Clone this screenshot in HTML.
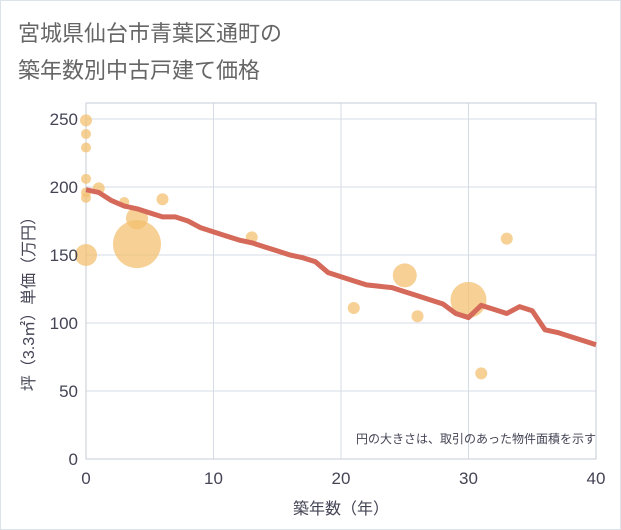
<!DOCTYPE html>
<html><head><meta charset="utf-8"><style>
body{margin:0;background:#fff}
svg{display:block;font-family:"Liberation Sans","Noto Sans CJK JP",sans-serif}
</style></head><body>
<svg width="621" height="530">
<rect x="0.5" y="0.5" width="620" height="529" fill="#fff" stroke="#dde3ea"/>
<text x="18" y="41" font-size="22" fill="#666">宮城県仙台市青葉区通町の</text>
<text x="18" y="78" font-size="22" fill="#666">築年数別中古戸建て価格</text>
<g id="grid"></g>
<rect x="86" y="103" width="510" height="356" fill="none" stroke="#c5ccd6"/>
<g id="bubbles"></g>
<g id="line"></g>
<g id="axes"></g>
<text x="596" y="443" font-size="12" fill="#445" text-anchor="end">円の大きさは、取引のあった物件面積を示す</text>
<text x="341" y="514" font-size="16" fill="#445" text-anchor="middle">築年数（年）</text>
<text transform="translate(34,300) rotate(-90)" font-size="16" fill="#445" text-anchor="middle">坪（3.3㎡）単価（万円）</text>
</svg>
<script>
const xTicks=[0,10,20,30,40];
const yTicks=[0,50,100,150,200,250];
const bubbleAge=[0,0,0,0,0,0,1,0,3,4,4,6,13,21,25,26,30,31,33];
const bubblePrice=[249,239,229,206,192,196,199,150,189,177,158,191,163,111,135,105,117,63,162];
const bubbleSize=[6,5,5,5,5,5,6,11,5,11,24,6,6,6,12,6,18,6,6];
const lineAge=[0,1,2,3,4,5,6,7,8,9,10,11,12,13,14,15,16,17,18,19,20,21,22,23,24,25,26,27,28,29,30,31,32,33,34,35,36,37,38,39,40];
const linePrice=[198,196,190,186,184,181,178,178,175,170,167,164,161,159,156,153,150,148,145,137,134,131,128,127,126,123,120,117,114,107,104,113,110,107,112,109,95,93,90,87,84];
const X=v=>86+v*12.75, Y=v=>459-v*1.36;
const NS="http://www.w3.org/2000/svg";
function mk(t,a,p){const e=document.createElementNS(NS,t);for(const k in a)e.setAttribute(k,a[k]);p.appendChild(e);return e;}
const grid=document.getElementById('grid'),axes=document.getElementById('axes');
xTicks.forEach(t=>{
 const l=mk('line',{x1:X(t),x2:X(t),y1:103,y2:459,stroke:'#d5dce6'},grid);
 
 
 const tx=mk('text',{x:X(t),y:484,'font-size':17,fill:'#445','text-anchor':'middle'},axes);
 tx.textContent=t;
 
 
});
yTicks.forEach(t=>{
 const l=mk('line',{x1:86,x2:596,y1:Y(t),y2:Y(t),stroke:'#d5dce6'},grid);
 
 
 const tx=mk('text',{x:78,y:Y(t)+6,'font-size':17,fill:'#445','text-anchor':'end'},axes);
 tx.textContent=t;
 
 
});
const bg=document.getElementById('bubbles');
bubbleAge.forEach((a,i)=>{
 const c=mk('circle',{cx:X(a),cy:Y(bubblePrice[i]),r:bubbleSize[i],fill:'#f3c070','fill-opacity':0.75},bg);
 
 
});
const pts=lineAge.map((a,i)=>X(a)+','+Y(linePrice[i])).join(' ');
const pl=mk('polyline',{points:pts,fill:'none',stroke:'#d5695a','stroke-width':5,'stroke-linejoin':'round'},document.getElementById('line'));


</script>
</body></html>
